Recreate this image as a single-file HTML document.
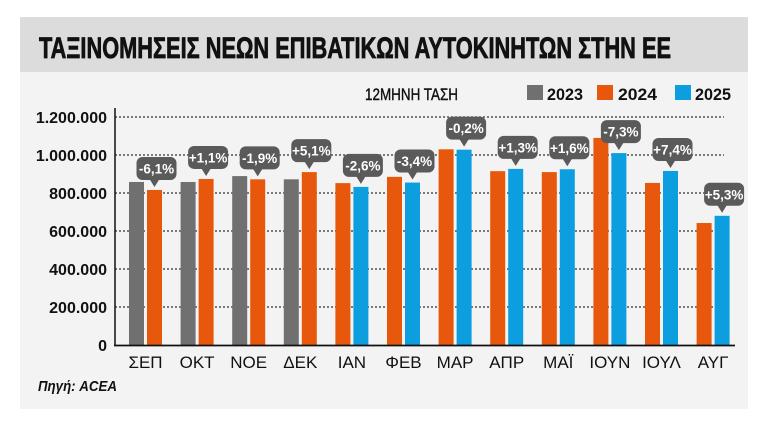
<!DOCTYPE html>
<html><head><meta charset="utf-8"><style>
html,body{margin:0;padding:0;background:#fff;}
svg{display:block;font-family:"Liberation Sans","DejaVu Sans",sans-serif;}
</style></head><body>
<svg id="chart" width="768" height="426" viewBox="0 0 768 426" xmlns="http://www.w3.org/2000/svg">
<rect x="20" y="17" width="728" height="392" fill="#f3f3f3"/>
<rect x="20" y="17" width="728" height="55" fill="#dcdcdc"/>
<text x="39" y="58" font-size="30" font-weight="bold" fill="#111" stroke="#111" stroke-width="0.8" textLength="632" lengthAdjust="spacingAndGlyphs">ΤΑΞΙΝΟΜΗΣΕΙΣ ΝΕΩΝ ΕΠΙΒΑΤΙΚΩΝ ΑΥΤΟΚΙΝΗΤΩΝ ΣΤΗΝ ΕΕ</text>
<text x="365" y="100" font-size="17" fill="#111" stroke="#111" stroke-width="0.4" textLength="93" lengthAdjust="spacingAndGlyphs">12ΜΗΝΗ ΤΑΣΗ</text>
<g>
<rect x="527" y="85" width="16" height="15" fill="#707070"/>
<text x="547" y="100" font-size="17" font-weight="bold" fill="#111" textLength="36" lengthAdjust="spacingAndGlyphs">2023</text>
<rect x="597" y="85" width="16" height="15" fill="#e8580c"/>
<text x="618" y="100" font-size="17" font-weight="bold" fill="#111" textLength="39" lengthAdjust="spacingAndGlyphs">2024</text>
<rect x="675" y="85" width="16" height="15" fill="#0d9ee0"/>
<text x="695" y="100" font-size="17" font-weight="bold" fill="#111" textLength="36" lengthAdjust="spacingAndGlyphs">2025</text>
</g>
<g id="grid"></g>
<g id="bars"></g>
<g id="bubbles"></g>
<g id="axes"></g>
<text x="38" y="391" font-size="15" font-weight="bold" font-style="italic" fill="#111" textLength="79" lengthAdjust="spacingAndGlyphs">Πηγή: ACEA</text>
</svg>
<script>
const categories = ["ΣΕΠ","ΟΚΤ","ΝΟΕ","ΔΕΚ","ΙΑΝ","ΦΕΒ","ΜΑΡ","ΑΠΡ","ΜΑΪ","ΙΟΥΝ","ΙΟΥΛ","ΑΥΓ"];
const prevValues = [858000,858000,889000,872000,852000,885000,1030000,915000,910000,1090000,853000,642000];
const currValues = [816000,874000,872000,910000,832000,855000,1028000,927000,925000,1010000,916000,680000];
const prevIsGray = [true,true,true,true,false,false,false,false,false,false,false,false];
const changeLabels = ["-6,1%","+1,1%","-1,9%","+5,1%","-2,6%","-3,4%","-0,2%","+1,3%","+1,6%","-7,3%","+7,4%","+5,3%"];
const yTicks = [0,200000,400000,600000,800000,1000000,1200000];
const yTickLabels = ["0","200.000","400.000","600.000","800.000","1.000.000","1.200.000"];

const NS="http://www.w3.org/2000/svg";
const y0=345, yPerUnit=228/1200000;
const yScale=v=>y0-v*yPerUnit;
const x0=145.5, step=51.6;
const xScale=i=>x0+i*step;
const BW=15, GAP=3;
function mk(tag,attrs,parent){const e=document.createElementNS(NS,tag);for(const k in attrs)e.setAttribute(k,attrs[k]);parent.appendChild(e);return e;}
const grid=document.getElementById('grid'),bars=document.getElementById('bars'),bub=document.getElementById('bubbles'),axes=document.getElementById('axes');

yTicks.forEach((t,i)=>{
  const y=yScale(t);
  if(t>0){
    const l=mk('line',{x1:115,x2:724,y1:y,y2:y,stroke:'#333','stroke-width':1.2,'stroke-dasharray':'2,2'},grid);
    
    
  }
  const tx=mk('text',{x:107,y:y+6,'font-size':16,'font-weight':'bold','text-anchor':'end',fill:'#111'},axes);
  tx.textContent=yTickLabels[i];
  
  
});
const ya=mk('line',{x1:115,x2:115,y1:108,y2:346,stroke:'#111','stroke-width':1.5},axes);


const xa=mk('line',{x1:114,x2:735,y1:345.5,y2:345.5,stroke:'#111','stroke-width':1.8},axes);



categories.forEach((c,i)=>{
  const cx=xScale(i);
  const xa1=cx-GAP/2-BW, xa2=cx+GAP/2;
  const ya1=yScale(prevValues[i]), ya2=yScale(currValues[i]);
  const b1=mk('rect',{x:xa1,y:ya1,width:BW,height:y0-ya1,fill:prevIsGray[i]?'#707070':'#e8580c'},bars);
  
  
  const b2=mk('rect',{x:xa2,y:ya2,width:BW,height:y0-ya2,fill:prevIsGray[i]?'#e8580c':'#0d9ee0'},bars);
  
  
  const lab=mk('text',{x:cx,y:368,'font-size':17,'text-anchor':'middle',fill:'#111'},axes);
  lab.textContent=c;
  
  
  const px=xa2+BW/2, tip=ya2-3, bw=40, bh=23;
  const bx=px-bw/2+2, by=tip-7-bh;
  const g=mk('g',{},bub);
  
  
  mk('rect',{x:bx,y:by,width:bw,height:bh,rx:6,fill:'#5a5a5a'},g);
  mk('path',{d:`M${px-5} ${by+bh-1} L${px+5} ${by+bh-1} L${px} ${tip} Z`,fill:'#5a5a5a'},g);
  const t=mk('text',{x:bx+bw/2,y:by+16.5,'font-size':13.5,'font-weight':'bold','text-anchor':'middle',fill:'#fff'},g);
  t.textContent=changeLabels[i];
});
</script>
</body></html>
